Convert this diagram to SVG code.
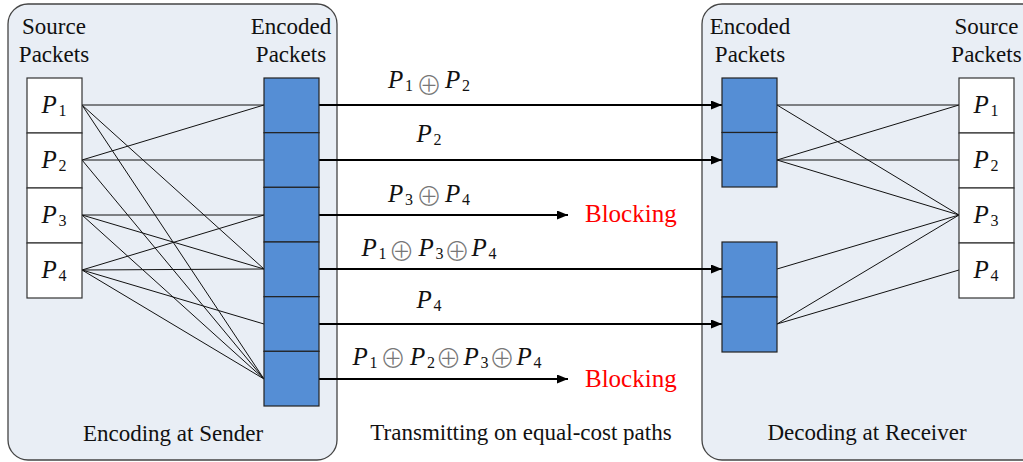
<svg xmlns="http://www.w3.org/2000/svg" width="1023" height="462" viewBox="0 0 1023 462">
  <defs>
    <style>
      .panel { fill: #E9EEF5; stroke: #444; stroke-width: 1.3; }
      .src { fill: #FFFFFF; stroke: #333; stroke-width: 1.2; }
      .enc { fill: #558ED5; stroke: #222; stroke-width: 1.2; }
      .link { stroke: #111; stroke-width: 1; fill: none; }
      .path { stroke: #000; stroke-width: 2; fill: none; marker-end: url(#arrow); }
      text { font-family: "Liberation Serif", "Times New Roman", serif; }
      .cap { font-size: 23px; fill: #111; text-anchor: middle; }
      .pv { font-size: 25px; font-style: italic; fill: #111; }
      .sub { font-size: 16px; fill: #111; }
      .xor { font-family: "Noto Sans CJK JP", "DejaVu Sans", sans-serif; font-size: 26px; font-weight: 300; fill: #777; text-anchor: middle; }
      .block { font-size: 25px; fill: #FF0000; }
    </style>
    <marker id="arrow" viewBox="0 0 11 9" refX="11" refY="4.5" markerWidth="11" markerHeight="9" markerUnits="userSpaceOnUse" orient="auto">
      <path d="M0,0 L11,4.5 L0,9 Z" fill="#000"/>
    </marker>
  </defs>

  <rect width="1023" height="462" fill="#FFFFFF"/>

  <!-- Sender panel -->
  <g id="sender">
    <rect class="panel" x="8" y="4" width="329" height="456" rx="20" ry="20"/>
    <text class="cap" x="54" y="34">Source</text>
    <text class="cap" x="54" y="62">Packets</text>
    <text class="cap" x="291" y="34">Encoded</text>
    <text class="cap" x="291" y="62">Packets</text>
    <text class="cap" x="173" y="441">Encoding at Sender</text>
  </g>

  <!-- Receiver panel -->
  <g id="receiver">
    <rect class="panel" x="702" y="4" width="340" height="456" rx="20" ry="20"/>
    <text class="cap" x="750" y="34">Encoded</text>
    <text class="cap" x="750" y="62">Packets</text>
    <text class="cap" x="986.5" y="34">Source</text>
    <text class="cap" x="986.5" y="62">Packets</text>
    <text class="cap" x="867" y="440">Decoding at Receiver</text>
  </g>

  <text id="transmit-caption" class="cap" x="521" y="440">Transmitting on equal-cost paths</text>

  <!-- Connectors -->
  <g id="connectors">
    <!-- sender encoding links -->
    <line class="link" x1="82" y1="105" x2="264" y2="105"/>
    <line class="link" x1="82" y1="105" x2="264" y2="269"/>
    <line class="link" x1="82" y1="105" x2="264" y2="379"/>
    <line class="link" x1="82" y1="160" x2="264" y2="105"/>
    <line class="link" x1="82" y1="160" x2="264" y2="160"/>
    <line class="link" x1="82" y1="160" x2="264" y2="379"/>
    <line class="link" x1="82" y1="215" x2="264" y2="215"/>
    <line class="link" x1="82" y1="215" x2="264" y2="269"/>
    <line class="link" x1="82" y1="215" x2="264" y2="379"/>
    <line class="link" x1="82" y1="270" x2="264" y2="215"/>
    <line class="link" x1="82" y1="270" x2="264" y2="269"/>
    <line class="link" x1="82" y1="270" x2="264" y2="324"/>
    <line class="link" x1="82" y1="270" x2="264" y2="379"/>

    <!-- receiver decoding links -->
    <line class="link" x1="777" y1="105" x2="959" y2="105"/>
    <line class="link" x1="777" y1="105" x2="959" y2="215"/>
    <line class="link" x1="777" y1="160" x2="959" y2="105"/>
    <line class="link" x1="777" y1="160" x2="959" y2="160"/>
    <line class="link" x1="777" y1="160" x2="959" y2="215"/>
    <line class="link" x1="777" y1="269" x2="959" y2="215"/>
    <line class="link" x1="777" y1="324" x2="959" y2="215"/>
    <line class="link" x1="777" y1="324" x2="959" y2="270"/>

    <!-- equal-cost paths -->
    <line class="path" x1="319" y1="105" x2="722" y2="105"/>
    <line class="path" x1="319" y1="160" x2="722" y2="160"/>
    <line class="path" x1="319" y1="215" x2="568" y2="215"/>
    <line class="path" x1="319" y1="269" x2="722" y2="269"/>
    <line class="path" x1="319" y1="324" x2="722" y2="324"/>
    <line class="path" x1="319" y1="379" x2="568" y2="379"/>
  </g>

  <!-- Sender source packets -->
  <g id="sender-source">
    <rect class="src" x="27" y="78" width="55" height="55"/>
    <rect class="src" x="27" y="133" width="55" height="55"/>
    <rect class="src" x="27" y="188" width="55" height="55"/>
    <rect class="src" x="27" y="243" width="55" height="55"/>
    <text class="pv" x="41.5" y="113">P</text><text class="sub" x="58.5" y="116">1</text>
    <text class="pv" x="41.5" y="168">P</text><text class="sub" x="58.5" y="171">2</text>
    <text class="pv" x="41.5" y="223">P</text><text class="sub" x="58.5" y="226">3</text>
    <text class="pv" x="41.5" y="278">P</text><text class="sub" x="58.5" y="281">4</text>
  </g>

  <!-- Sender encoded packets -->
  <g id="sender-encoded">
    <rect class="enc" x="264" y="78" width="55" height="54.7"/>
    <rect class="enc" x="264" y="132.7" width="55" height="54.7"/>
    <rect class="enc" x="264" y="187.3" width="55" height="54.7"/>
    <rect class="enc" x="264" y="242" width="55" height="54.7"/>
    <rect class="enc" x="264" y="296.7" width="55" height="54.7"/>
    <rect class="enc" x="264" y="351.3" width="55" height="54.7"/>
  </g>

  <!-- Receiver encoded packets -->
  <g id="receiver-encoded">
    <rect class="enc" x="722" y="78" width="55" height="54.5"/>
    <rect class="enc" x="722" y="132.5" width="55" height="54.5"/>
    <rect class="enc" x="722" y="242" width="55" height="55"/>
    <rect class="enc" x="722" y="297" width="55" height="55"/>
  </g>

  <!-- Receiver source packets -->
  <g id="receiver-source">
    <rect class="src" x="959" y="78" width="55" height="55"/>
    <rect class="src" x="959" y="133" width="55" height="55"/>
    <rect class="src" x="959" y="188" width="55" height="55"/>
    <rect class="src" x="959" y="243" width="55" height="55"/>
    <text class="pv" x="973.5" y="113">P</text><text class="sub" x="990.5" y="116">1</text>
    <text class="pv" x="973.5" y="168">P</text><text class="sub" x="990.5" y="171">2</text>
    <text class="pv" x="973.5" y="223">P</text><text class="sub" x="990.5" y="226">3</text>
    <text class="pv" x="973.5" y="278">P</text><text class="sub" x="990.5" y="281">4</text>
  </g>

  <!-- Path labels -->
  <g id="path-labels">
    <text class="pv" x="388" y="88">P</text><text class="sub" x="405" y="91">1</text>
    <text class="xor" x="429" y="94.5">⊕</text>
    <text class="pv" x="445" y="88">P</text><text class="sub" x="462" y="91">2</text>

    <text class="pv" x="416.5" y="141.5">P</text><text class="sub" x="433.5" y="144.5">2</text>

    <text class="pv" x="388" y="201.5">P</text><text class="sub" x="405" y="204.5">3</text>
    <text class="xor" x="429" y="206">⊕</text>
    <text class="pv" x="445" y="201.5">P</text><text class="sub" x="462" y="204.5">4</text>

    <text class="pv" x="361.5" y="256">P</text><text class="sub" x="378.5" y="259">1</text>
    <text class="xor" x="401.5" y="261">⊕</text>
    <text class="pv" x="418.5" y="256">P</text><text class="sub" x="435.5" y="259">3</text>
    <text class="xor" x="457" y="261">⊕</text>
    <text class="pv" x="471.5" y="256">P</text><text class="sub" x="488.5" y="259">4</text>

    <text class="pv" x="416.5" y="308">P</text><text class="sub" x="433.5" y="311">4</text>

    <text class="pv" x="352.5" y="365">P</text><text class="sub" x="369.5" y="368">1</text>
    <text class="xor" x="393" y="368">⊕</text>
    <text class="pv" x="410" y="365">P</text><text class="sub" x="427" y="368">2</text>
    <text class="xor" x="448.5" y="368">⊕</text>
    <text class="pv" x="463.5" y="365">P</text><text class="sub" x="480.5" y="368">3</text>
    <text class="xor" x="502" y="368">⊕</text>
    <text class="pv" x="516.5" y="365">P</text><text class="sub" x="533.5" y="368">4</text>

    <text class="block" x="585" y="222">Blocking</text>
    <text class="block" x="585" y="387">Blocking</text>
  </g>
</svg>
